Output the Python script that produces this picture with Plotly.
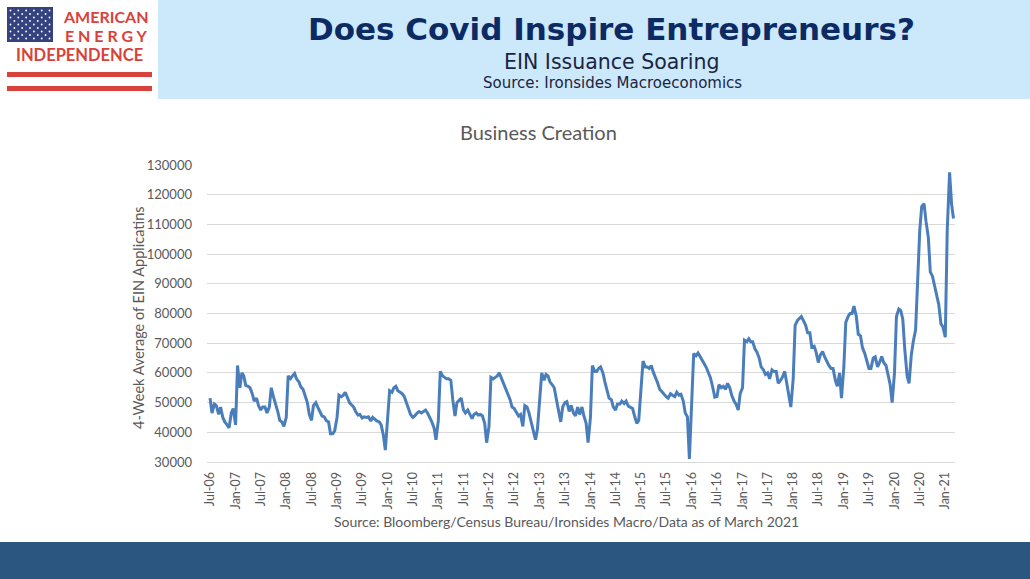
import plotly.graph_objects as go
import pandas as pd

# semi-monthly readings (1st and 15th of each month) of the 4-week average
v2006 = [51500, 46500, 49500, 49000, 46000, 48500, 45000, 43500, 42500, 41500, 46500, 48000]
v2007 = [42500, 62500, 55000, 60000, 59000, 55800, 55500, 55000, 53000, 50500, 51500, 49000,
         47500, 48500, 48500, 46500, 48500, 55000, 51900, 50000, 47000, 44000, 43500, 42000]
v2008 = [45000, 59000, 58100, 59000, 59800, 58000, 57000, 55300, 54500, 52500, 50000, 46000,
         44000, 49000, 50000, 48500, 46500, 45500, 45200, 44000, 43500, 39500, 39500, 40500]
v2009 = [45000, 52500, 52000, 52500, 53500, 51900, 50000, 49300, 48500, 47000, 45800, 46000,
         44800, 45200, 45000, 45200, 43800, 45000, 44200, 43800, 43500, 42500, 39000, 34000]
v2010 = [45000, 54000, 53500, 55000, 55500, 54000, 53500, 53000, 52000, 50000, 48000, 46000,
         45000, 45500, 46500, 47000, 46500, 47000, 47500, 46500, 45000, 43500, 41500, 37500]
v2011 = [44000, 60500, 59000, 58500, 58000, 58000, 57500, 51000, 45500, 50000, 51000, 51500,
         47500, 46500, 47500, 46000, 44600, 46000, 46500, 45800, 46000, 45500, 43000, 36500]
v2012 = [42000, 58500, 58000, 58500, 59000, 60000, 58000, 57000, 55000, 53000, 51000, 48500,
         48000, 46800, 45500, 46000, 42000, 49000, 48500, 46500, 43000, 40500, 37500, 41000]
v2013 = [52000, 60000, 57500, 59500, 59000, 57000, 56000, 55000, 51000, 47000, 43500, 48500,
         50000, 50300, 47000, 49000, 46500, 45500, 48500, 46000, 48500, 45500, 43000, 36500]
v2014 = [45000, 62500, 60500, 60500, 61500, 62000, 60000, 57000, 54000, 51500, 51000, 48500,
         47500, 49500, 49500, 50500, 49700, 50500, 48800, 48500, 48000, 45500, 43000, 44000]
v2015 = [54000, 64000, 62000, 62000, 61500, 62500, 60000, 58500, 56500, 54500, 53500, 53000,
         52000, 51500, 53000, 52500, 52000, 53500, 52500, 52800, 50500, 46500, 45200, 31000]
v2016 = [52000, 66500, 65800, 66700, 65500, 64500, 63000, 61800, 60000, 58300, 55000, 51800,
         52000, 56000, 55000, 55500, 54500, 56500, 55000, 52500, 50500, 49500, 47500, 53000]
v2017 = [55000, 71000, 70500, 71500, 70500, 70500, 68000, 67000, 65000, 62000, 61000, 59500,
         60000, 58000, 61000, 60500, 60500, 56500, 57500, 58500, 60500, 57000, 53000, 48500]
v2018 = [58000, 76000, 77700, 78300, 79000, 77700, 76000, 73500, 73500, 68700, 69000, 67000,
         63500, 66000, 67200, 65500, 63500, 62500, 61500, 61500, 57500, 55500, 60000, 51500]
v2019 = [62000, 77000, 79000, 80000, 80000, 82500, 79000, 73000, 72500, 68500, 66500, 64500,
         61500, 61500, 65000, 65400, 62000, 63500, 65500, 63500, 62500, 59500, 56000, 50000]
v2020 = [60000, 79000, 81500, 81000, 78000, 68000, 59000, 56500, 66000, 70500, 74500, 90000,
         108000, 116000, 117000, 111000, 105500, 94000, 92500, 89500, 86000, 83000, 76500, 75500]
v2021 = [72000, 108000, 127500, 117000, 112000]

tick_labels = ["Jul-06", "Jan-07", "Jul-07", "Jan-08", "Jul-08", "Jan-09", "Jul-09", "Jan-10",
               "Jul-10", "Jan-11", "Jul-11", "Jan-12", "Jul-12", "Jan-13", "Jul-13", "Jan-14",
               "Jul-14", "Jan-15", "Jul-15", "Jan-16", "Jul-16", "Jan-17", "Jul-17", "Jan-18",
               "Jul-18", "Jan-19", "Jul-19", "Jan-20", "Jul-20", "Jan-21"]

values = (v2006 + v2007 + v2008 + v2009 + v2010 + v2011 + v2012 + v2013 + v2014 +
          v2015 + v2016 + v2017 + v2018 + v2019 + v2020 + v2021)
dates = pd.date_range("2006-07-01", periods=len(values), freq="SMS")
tick_vals = [pd.to_datetime(t, format="%b-%y") for t in tick_labels]

# plot area in pixels on the 1030x579 slide
L, R, T, B = 207, 955, 165, 462
W, H = 1030, 579


def px(x):
    return (x - L) / (R - L)


def py(y):
    return (B - y) / (B - T)


GRAY = "#595959"
RED = "#d8423a"

fig = go.Figure()
fig.add_trace(go.Scatter(
    x=dates, y=values, mode="lines",
    line=dict(color="#4a7ebb", width=3),
    showlegend=False, hoverinfo="x+y"
))

shapes = []
# header band and footer band
shapes.append(dict(type="rect", xref="paper", yref="paper", x0=px(158), x1=px(1030),
                   y0=py(99), y1=py(0), fillcolor="#cce8fb", line=dict(width=0), layer="below"))
shapes.append(dict(type="rect", xref="paper", yref="paper", x0=px(0), x1=px(1030),
                   y0=py(579), y1=py(542), fillcolor="#2b5680", line=dict(width=0), layer="below"))
# logo: flag canton
shapes.append(dict(type="rect", xref="paper", yref="paper", x0=px(7), x1=px(53),
                   y0=py(42), y1=py(7), fillcolor="#34437f", line=dict(width=0), layer="below"))
for row in range(9):
    cols = 6 if row % 2 == 0 else 5
    for c in range(cols):
        cx = 10.5 + c * 7.8 + (0 if row % 2 == 0 else 3.9)
        cy = 10.5 + row * 3.5
        shapes.append(dict(type="circle", xref="paper", yref="paper",
                           x0=px(cx - 0.9), x1=px(cx + 0.9), y0=py(cy + 0.9), y1=py(cy - 0.9),
                           fillcolor="white", line=dict(width=0)))
# logo stripes
for y0, y1 in [(72, 77), (86, 91)]:
    shapes.append(dict(type="rect", xref="paper", yref="paper", x0=px(7), x1=px(152),
                       y0=py(y1), y1=py(y0), fillcolor=RED, line=dict(width=0), layer="below"))

annotations = [
    dict(x=px(106), y=py(16.5), text="<b>AMERICAN</b>", font=dict(family="Lato", size=16, color=RED)),
    dict(x=px(106), y=py(35.5), text="<b>E N E R G Y</b>", font=dict(family="Lato", size=16, color=RED)),
    dict(x=px(79), y=py(55.5), text="<b>INDEPENDENCE</b>", font=dict(family="Lato", size=16.5, color=RED)),
    dict(x=px(611), y=py(29), text="<b>Does Covid Inspire Entrepreneurs?</b>",
         font=dict(family="DejaVu Sans", size=31, color="#0c2a63")),
    dict(x=px(611), y=py(62), text="EIN Issuance Soaring",
         font=dict(family="DejaVu Sans", size=20.5, color="#1b2440")),
    dict(x=px(612), y=py(83), text="Source: Ironsides Macroeconomics",
         font=dict(family="DejaVu Sans", size=15, color="#1b2440")),
    dict(x=px(538), y=py(132), text="Business Creation",
         font=dict(family="Lato", size=20, color=GRAY)),
    dict(x=px(138), y=py(318), text="4-Week Average of EIN Applicatins", textangle=-90,
         font=dict(family="Lato", size=14.5, color=GRAY)),
    dict(x=px(566), y=py(521), text="Source: Bloomberg/Census Bureau/Ironsides Macro/Data as of March 2021",
         font=dict(family="Lato", size=14, color=GRAY)),
]
for a in annotations:
    a.update(xref="paper", yref="paper", showarrow=False, xanchor="center", yanchor="middle")

fig.update_layout(
    width=W, height=H,
    margin=dict(l=L, r=W - R, t=T, b=H - B, autoexpand=False),
    paper_bgcolor="white", plot_bgcolor="white",
    shapes=shapes, annotations=annotations,
    showlegend=False,
    xaxis=dict(
        type="date", range=["2006-06-09", "2021-03-12"],
        tickvals=tick_vals, ticktext=tick_labels, tickangle=-90,
        tickfont=dict(family="Lato", size=12.5, color=GRAY),
        showgrid=False, zeroline=False, showline=True, linecolor="#d9d9d9", linewidth=1,
        ticks="", ticklabelstandoff=4
    ),
    yaxis=dict(
        range=[30000, 130000], dtick=10000, tickformat="d",
        tickfont=dict(family="Lato", size=13, color=GRAY),
        showgrid=True, gridcolor="#d9d9d9", gridwidth=1, zeroline=False,
        ticks="", ticklabelstandoff=14
    ),
)

fig.write_html("out.html", config={"displayModeBar": False})

# the slide should sit flush in the browser window
with open("out.html", encoding="utf-8") as f:
    page = f.read()
page = page.replace("<head>", "<head><style>html,body{margin:0;padding:0;overflow:hidden}</style>", 1)
with open("out.html", "w", encoding="utf-8") as f:
    f.write(page)
